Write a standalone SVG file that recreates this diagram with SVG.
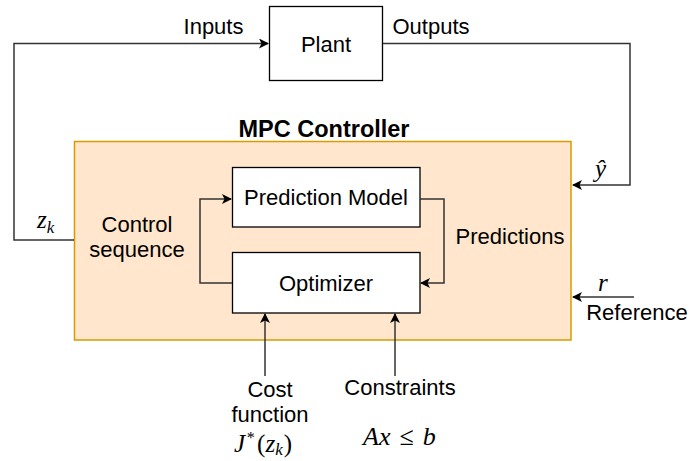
<svg xmlns="http://www.w3.org/2000/svg" width="692" height="461" viewBox="0 0 692 461">
<style>
.t{font-family:"Liberation Sans",Arial,sans-serif;font-size:22px;fill:#000;text-anchor:middle}
.b{font-weight:bold;font-size:23.5px}
.m{font-family:"Liberation Serif","Times New Roman",serif;font-style:italic;fill:#000}
.u{font-style:normal}
.box{fill:#fff;stroke:#000;stroke-width:1.3}
.c{fill:none;stroke:#333;stroke-width:1.5}
</style>
<defs>
<marker id="ah" viewBox="0 0 10 10" refX="9" refY="5" markerWidth="10" markerHeight="10" markerUnits="userSpaceOnUse" orient="auto">
<path d="M0,0 L10,5 L0,10 L2.5,5 Z" fill="#000"/>
</marker>
</defs>
<rect width="692" height="461" fill="#fff"/>
<g id="mpc">
<rect x="74.5" y="141.5" width="496.5" height="198.5" fill="#ffe6cc" stroke="#d79b00" stroke-width="1.5"/>
<text class="t b" x="324" y="137">MPC Controller</text>
</g>
<g id="plant">
<rect class="box" x="269.5" y="6.5" width="113" height="74"/>
<text class="t" x="326" y="52">Plant</text>
</g>
<g id="prediction-model">
<rect class="box" x="232.5" y="167.5" width="187.5" height="59.5"/>
<text class="t" x="326" y="205">Prediction Model</text>
</g>
<g id="optimizer">
<rect class="box" x="232.5" y="252.5" width="187.5" height="60.5"/>
<text class="t" x="326" y="291">Optimizer</text>
</g>
<g id="connectors">
<path class="c" d="M74,240 H14 V43.5 H268" marker-end="url(#ah)"/>
<path class="c" d="M383,43.5 H630 V185 H573" marker-end="url(#ah)"/>
<path class="c" d="M634,297 H573" marker-end="url(#ah)"/>
<path class="c" d="M232,283 H200 V199 H231" marker-end="url(#ah)"/>
<path class="c" d="M420,199 H444 V283 H421" marker-end="url(#ah)"/>
<path class="c" d="M265,376 V314" marker-end="url(#ah)"/>
<path class="c" d="M395,376 V314" marker-end="url(#ah)"/>
</g>
<g id="labels">
<text class="t" x="270" y="397">Cost</text>
<text class="t" x="270" y="422">function</text>
<text class="t" x="213.5" y="34">Inputs</text>
<text class="t" x="431" y="34">Outputs</text>
<text class="t" x="137" y="232">Control</text>
<text class="t" x="137" y="257">sequence</text>
<text class="t" x="510" y="244">Predictions</text>
<text class="t" x="637" y="320">Reference</text>
<text class="t" x="400" y="395">Constraints</text>
<text class="m" x="37" y="228" font-size="25">z<tspan font-size="17" dy="5">k</tspan></text>
<text class="m" x="595" y="177" font-size="25">ŷ</text>
<text class="m" x="598" y="291" font-size="25">r</text>
<text class="m" x="234" y="452" font-size="25">J<tspan font-size="16" dy="-9" dx="1">*</tspan><tspan class="u" dy="9" dx="3">(</tspan>z<tspan font-size="17" dy="3">k</tspan><tspan class="u" dy="-3" dx="1">)</tspan></text>
<text class="m" x="363" y="445" font-size="26">Ax<tspan class="u" dx="9">≤</tspan><tspan dx="9">b</tspan></text>
</g>
</svg>
